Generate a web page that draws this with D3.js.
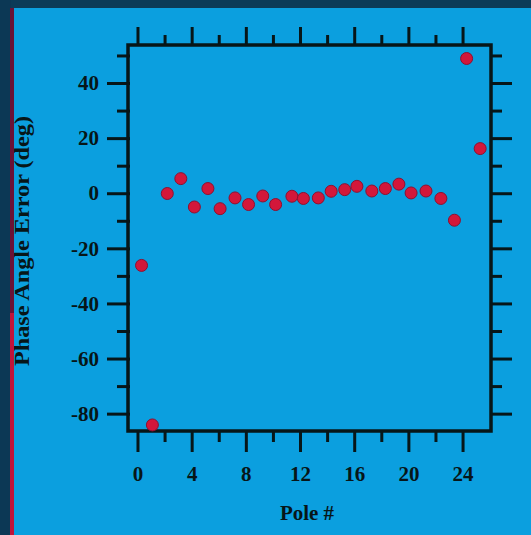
<!DOCTYPE html>
<html>
<head>
<meta charset="utf-8">
<script src="https://cdn.jsdelivr.net/npm/d3@7/dist/d3.min.js"></script>
<style>
  html, body { margin: 0; padding: 0; background: #0b9fdf; }
  svg { display: block; }
</style>
</head>
<body>
<svg id="chart" width="531" height="535"></svg>
<script>
// ---- data ----
const poleX = [0.3, 1.1, 2.2, 3.2, 4.2, 5.2, 6.1, 7.2, 8.2, 9.25, 10.2, 11.4, 12.25,
               13.35, 14.3, 15.3, 16.2, 17.3, 18.3, 19.3, 20.2, 21.3, 22.4, 23.4, 24.3, 25.3];
const phaseErr = [-26.2, -84.1, -0.1, 5.3, -5.0, 1.7, -5.6, -1.7, -4.1, -1.0, -4.1, -1.1, -1.9,
                  -1.7, 0.7, 1.3, 2.5, 0.8, 1.7, 3.3, 0.1, 0.8, -1.9, -9.8, 48.9, 16.2];
const xMajorTicks = [0, 4, 8, 12, 16, 20, 24];
const xMinorTicks = [2, 6, 10, 14, 18, 22];
const yMajorTicks = [40, 20, 0, -20, -40, -60, -80];
const yMinorTicks = [50, 30, 10, -10, -30, -50, -70];
const xTitle = "Pole #";
const yTitle = "Phase Angle Error (deg)";

// ---- layout ----
const W = 531, H = 535;
const L = 128, R = 491, T = 45, B = 431;
const svg = d3.select("#chart");
const ink = "#071618";
const font = "'Liberation Serif', 'Times New Roman', serif";
const fmt = d => String(d); // plain hyphen minus as in the scan

svg.append("rect").attr("x", 0).attr("y", 0).attr("width", W).attr("height", H).attr("fill", "#0b9fdf");
// scan border remnants
svg.append("rect").attr("x", 0).attr("y", 0).attr("width", W).attr("height", 8).attr("fill", "#0c3b58");

const x = d3.scaleLinear().domain([-0.7, 26.1]).range([L, R]);
const y = d3.scaleLinear().domain([-86.3, 53.8]).range([B, T]);

function styleAxis(g) {
  g.select(".domain").remove();
  g.selectAll(".tick line").attr("stroke", ink).attr("stroke-width", 3);
  g.selectAll(".tick text").attr("fill", ink).attr("font-family", font)
    .attr("font-size", 21).attr("font-weight", "bold");
}

// bottom
svg.append("g").attr("transform", `translate(0,${B})`)
  .call(d3.axisBottom(x).tickValues(xMajorTicks).tickSize(21).tickPadding(14).tickFormat(fmt))
  .call(styleAxis);
svg.append("g").attr("transform", `translate(0,${B})`)
  .call(d3.axisBottom(x).tickValues(xMinorTicks).tickSize(11).tickFormat(""))
  .call(styleAxis);
// top
svg.append("g").attr("transform", `translate(0,${T})`)
  .call(d3.axisTop(x).tickValues(xMajorTicks).tickSize(18).tickFormat(""))
  .call(styleAxis);
svg.append("g").attr("transform", `translate(0,${T})`)
  .call(d3.axisTop(x).tickValues(xMinorTicks).tickSize(10).tickFormat(""))
  .call(styleAxis);
// left
svg.append("g").attr("transform", `translate(${L + 2},0)`)
  .call(d3.axisLeft(y).tickValues(yMajorTicks).tickSize(23).tickPadding(8).tickFormat(fmt))
  .call(styleAxis);
svg.append("g").attr("transform", `translate(${L + 2},0)`)
  .call(d3.axisLeft(y).tickValues(yMinorTicks).tickSize(13).tickFormat(""))
  .call(styleAxis);
// right
svg.append("g").attr("transform", `translate(${R},0)`)
  .call(d3.axisRight(y).tickValues(yMajorTicks).tickSize(21).tickFormat(""))
  .call(styleAxis);
svg.append("g").attr("transform", `translate(${R},0)`)
  .call(d3.axisRight(y).tickValues(yMinorTicks).tickSize(11).tickFormat(""))
  .call(styleAxis);

// frame
svg.append("rect").attr("x", L).attr("y", T).attr("width", R - L).attr("height", B - T)
  .attr("fill", "none").attr("stroke", ink).attr("stroke-width", 3.5);

// points
svg.append("g").selectAll("circle")
  .data(poleX.map((p, i) => ({ p, v: phaseErr[i] })))
  .join("circle")
  .attr("cx", d => x(d.p)).attr("cy", d => y(d.v)).attr("r", 6)
  .attr("fill", "#d3173a").attr("stroke", "#8e1030").attr("stroke-width", 1);

// titles
svg.append("text").attr("x", 307).attr("y", 520).attr("text-anchor", "middle")
  .attr("font-family", font).attr("font-size", 21).attr("font-weight", "bold").attr("fill", ink)
  .text(xTitle);
svg.append("text").attr("transform", "translate(29,241) rotate(-90)").attr("text-anchor", "middle")
  .attr("font-family", font).attr("font-size", 21).attr("font-weight", "bold").attr("fill", ink)
  .attr("textLength", 250).attr("lengthAdjust", "spacingAndGlyphs")
  .text(yTitle);

// left scan border (covers part of the y title like in the scan)
svg.append("rect").attr("x", 0).attr("y", 0).attr("width", 11).attr("height", H).attr("fill", "#0c3855");
svg.append("rect").attr("x", 10).attr("y", 8).attr("width", 4).attr("height", 305).attr("fill", "#6a1236");
svg.append("rect").attr("x", 10).attr("y", 313).attr("width", 4).attr("height", H - 313).attr("fill", "#c0143a");
</script>
</body>
</html>
